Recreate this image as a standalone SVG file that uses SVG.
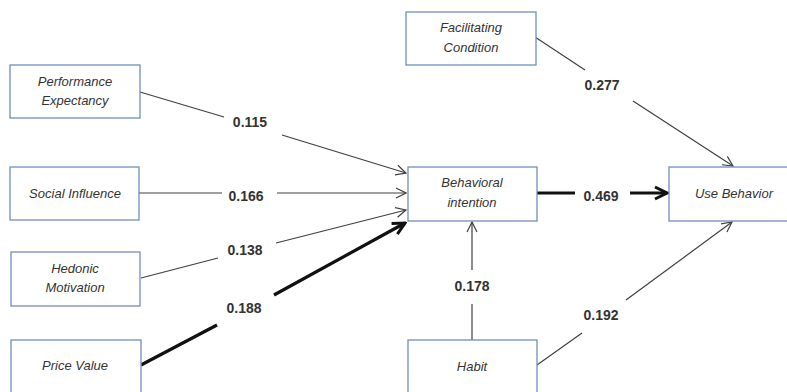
<svg xmlns="http://www.w3.org/2000/svg" width="787" height="392" viewBox="0 0 787 392">
<style>
.box{fill:#fff;stroke:#6f8fbf;stroke-width:1.3}
.t{font-family:"Liberation Sans",Arial,sans-serif;font-style:italic;font-size:13px;fill:#333;text-anchor:middle}
.lb{font-family:"Liberation Sans",Arial,sans-serif;font-weight:bold;font-size:14px;fill:#333;text-anchor:middle}
.c{fill:none;stroke:#404040;stroke-width:1.2}
.k{fill:none;stroke:#111;stroke-width:3.2}
</style>
<defs>
<marker id="a" viewBox="0 0 12 12" refX="11" refY="6" markerWidth="12" markerHeight="12" markerUnits="userSpaceOnUse" orient="auto">
<polyline points="1,1 11,6 1,11" fill="none" stroke="#404040" stroke-width="1.2"/>
</marker>
<marker id="b" viewBox="0 0 16 16" refX="14" refY="8" markerWidth="16" markerHeight="16" markerUnits="userSpaceOnUse" orient="auto">
<polyline points="2,2 14,8 2,14" fill="none" stroke="#111" stroke-width="3"/>
</marker>
</defs>
<g id="connectors">
<path class="c" d="M140,92 L224,117 M282,135 L406,173" marker-end="url(#a)"/>
<path class="c" d="M139,193 L222,193 M277,193 L406,193" marker-end="url(#a)"/>
<path class="c" d="M141,278 L218,258 M276,243 L406,210" marker-end="url(#a)"/>
<path class="k" d="M141,365 L217,325 M274,295 L405,223" marker-end="url(#b)"/>
<path class="k" d="M537,193 L575,193 M630,193 L667,193" marker-end="url(#b)"/>
<path class="c" d="M535,37 L585,70 M633,101 L733,166" marker-end="url(#a)"/>
<path class="c" d="M472,340 L472,304 M472,270 L472,222" marker-end="url(#a)"/>
<path class="c" d="M537,365 L582,333 M626,300 L732,222" marker-end="url(#a)"/>
<text class="lb" x="250" y="127">0.115</text>
<text class="lb" x="246" y="201">0.166</text>
<text class="lb" x="245" y="255">0.138</text>
<text class="lb" x="244" y="313">0.188</text>
<text class="lb" x="602" y="90">0.277</text>
<text class="lb" x="601" y="201">0.469</text>
<text class="lb" x="472" y="291">0.178</text>
<text class="lb" x="601" y="320">0.192</text>
</g>
<g id="pe"><rect class="box" x="10" y="65" width="130" height="53"/><text class="t" x="75" y="86">Performance</text><text class="t" x="75" y="105">Expectancy</text></g>
<g id="si"><rect class="box" x="10" y="167" width="129" height="53"/><text class="t" x="75" y="198">Social Influence</text></g>
<g id="hm"><rect class="box" x="11" y="252" width="129" height="54"/><text class="t" x="75" y="273">Hedonic</text><text class="t" x="75" y="292">Motivation</text></g>
<g id="pv"><rect class="box" x="11" y="340" width="130" height="60"/><text class="t" x="75" y="370">Price Value</text></g>
<g id="fc"><rect class="box" x="406" y="12" width="130" height="53"/><text class="t" x="471" y="32">Facilitating</text><text class="t" x="471" y="52">Condition</text></g>
<g id="bi"><rect class="box" x="408" y="167" width="129" height="54"/><text class="t" x="472" y="187">Behavioral</text><text class="t" x="472" y="207">intention</text></g>
<g id="ub"><rect class="box" x="669" y="167" width="130" height="54"/><text class="t" x="734" y="198">Use Behavior</text></g>
<g id="hb"><rect class="box" x="408" y="340" width="129" height="60"/><text class="t" x="472" y="371">Habit</text></g>
</svg>
